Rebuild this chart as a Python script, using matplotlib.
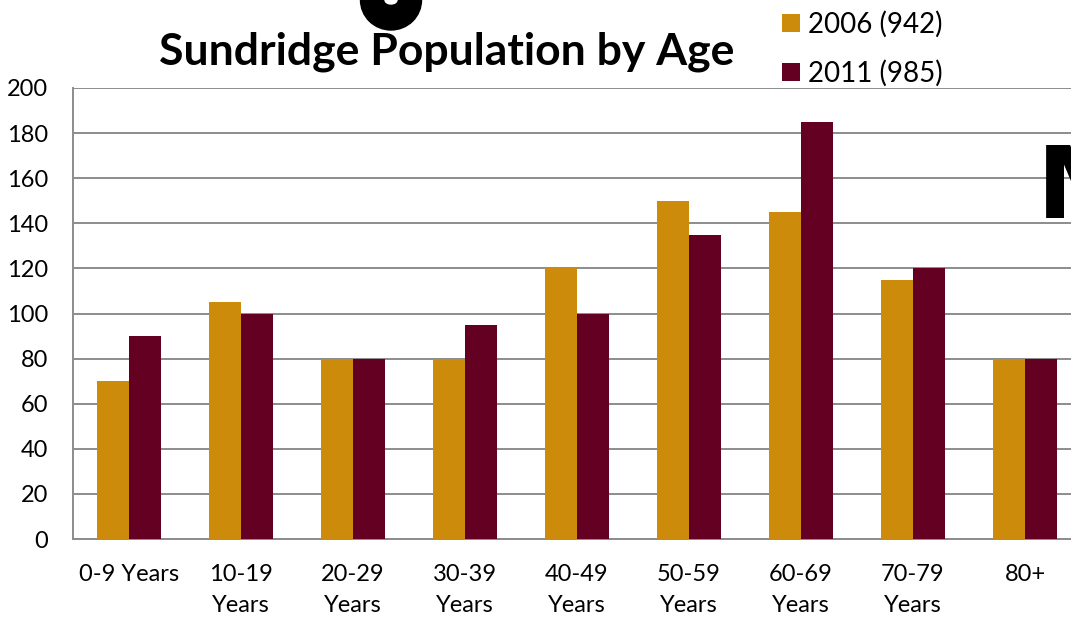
import numpy as np
import matplotlib.pyplot as plt
from matplotlib.patches import Ellipse

categories = ["0-9 Years", "10-19\nYears", "20-29\nYears", "30-39\nYears", "40-49\nYears",
              "50-59\nYears", "60-69\nYears", "70-79\nYears", "80+"]
pop_2006 = [70, 105, 80, 80, 120, 150, 145, 115, 80]
pop_2011 = [90, 100, 80, 95, 100, 135, 185, 120, 80]
series_labels = ["2006 (942)", "2011 (985)"]
y_ticks = [0, 20, 40, 60, 80, 100, 120, 140, 160, 180, 200]

plt.rcParams['font.family'] = ['Lato', 'DejaVu Sans']

fig = plt.figure(figsize=(10.71, 6.19), dpi=100)
# axes run a little past the right edge, like the cropped original
ax = fig.add_axes([73/1071, 1 - 539/619, 1008/1071, 451/619])

x = np.arange(len(categories))
w = 0.286
b1 = ax.bar(x - w/2, pop_2006, w, color="#CC8B0A", label=series_labels[0], zorder=3)
b2 = ax.bar(x + w/2, pop_2011, w, color="#640022", label=series_labels[1], zorder=3)

ax.set_xlim(-0.5, len(categories) - 0.5)
ax.set_ylim(0, 200)
ax.set_yticks(y_ticks)
ax.set_xticks(x)
ax.set_xticklabels(categories, fontsize=17, linespacing=1.6)
ax.tick_params(axis='y', labelsize=17, length=0, pad=18)
ax.tick_params(axis='x', length=0, pad=18)
ax.grid(axis='y', color="#8c8c8c", linewidth=1.4, zorder=0)
for s in ["top", "right"]:
    ax.spines[s].set_visible(False)
for s in ["left", "bottom"]:
    ax.spines[s].set_color("#8c8c8c")
    ax.spines[s].set_linewidth(1.4)

fig.text(447/1071, 1 - 52/619, "Sundridge Population by Age", fontsize=32,
         fontweight="bold", ha="center", va="center")

fig.legend(handles=[b1, b2], loc="upper left", bbox_to_anchor=(757/1071, 1 + 14/619),
           frameon=False, fontsize=20, handlelength=0.65, handleheight=0.65,
           handletextpad=0.3, labelspacing=0.8)

# bits of other slide content cut off by the crop
fig.text(1037/1071, 1 - 218/619, "M", fontsize=72, fontweight="bold",
         family="Liberation Sans Narrow", ha="left", va="baseline")
fig.add_artist(Ellipse((391/1071, 1.0), 61/1071, 60/619, transform=fig.transFigure,
                       color="black"))
fig.add_artist(Ellipse((391/1071, 1.0), 12/1071, 8/619, transform=fig.transFigure,
                       color="white"))

fig.savefig("out.png", dpi=100)
